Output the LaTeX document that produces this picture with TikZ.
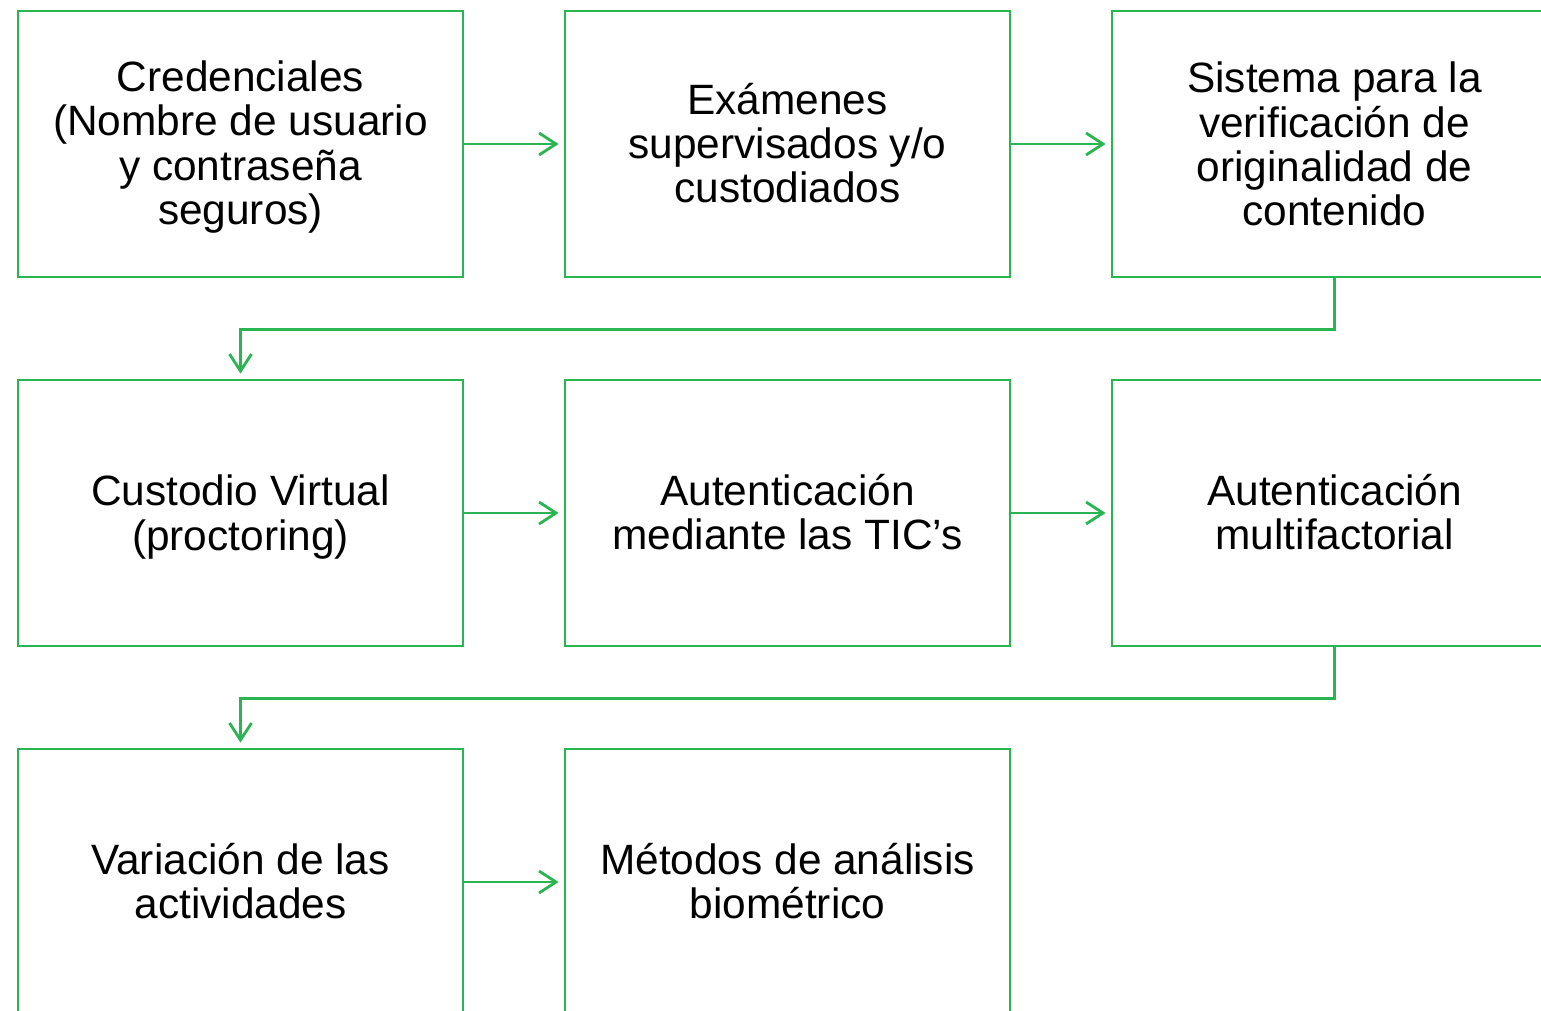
\documentclass[tikz,border=0pt]{standalone}
\usepackage{fontspec}
\setmainfont{Liberation Sans}
\usetikzlibrary{arrows.meta}
\definecolor{grn}{RGB}{41,181,82}
\begin{document}
\begin{tikzpicture}[x=1pt,y=-1pt,
  box/.style={draw=grn,line width=2.8pt,minimum width=445pt,minimum height=266pt,inner sep=0pt},
  txt/.style={align=center,font=\fontsize{42.4pt}{44.3pt}\selectfont,inner sep=0pt},
  conn/.style={draw=grn,line width=2.8pt,shorten >=5pt,-{Straight Barb[length=17pt,width=22pt,line width=2.8pt]}}]
\useasboundingbox (0,0) rectangle (1541,1011);
\clip (0,0) rectangle (1541,1011);
\node[box] (b1) at (240.5,144) {};
\node[box] (b2) at (787.5,144) {};
\node[box] (b3) at (1334.5,144) {};
\node[box] (b4) at (240.5,513) {};
\node[box] (b5) at (787.5,513) {};
\node[box] (b6) at (1334.5,513) {};
\node[box] (b7) at (240.5,882) {};
\node[box] (b8) at (787.5,882) {};
\node[txt] (t1) at (240.5,147) {Credenciales\\(Nombre de usuario\\y contraseña\\seguros)};
\node[txt] (t2) at (787.5,143) {Exámenes\\supervisados y/o\\custodiados};
\node[txt] (t3) at (1334.5,144) {Sistema para la\\verificación de\\originalidad de\\contenido};
\node[txt] (t4) at (240.5,517) {Custodio Virtual\\(proctoring)};
\node[txt] (t5) at (787.5,512) {Autenticación\\mediante las TIC’s};
\node[txt] (t6) at (1334.5,512) {Autenticación\\multifactorial};
\node[txt] (t7) at (240.5,881) {Variación de las\\actividades};
\node[txt] (t8) at (787.5,881) {Métodos de análisis\\biométrico};
\draw[conn] (b1.east) -- (b2.west);
\draw[conn] (b2.east) -- (b3.west);
\draw[conn] (b4.east) -- (b5.west);
\draw[conn] (b5.east) -- (b6.west);
\draw[conn] (b3.south) -- ++(0,51) -| (b4.north);
\draw[conn] (b6.south) -- ++(0,51) -| (b7.north);
\draw[conn] (b7.east) -- (b8.west);
\end{tikzpicture}
\end{document}
